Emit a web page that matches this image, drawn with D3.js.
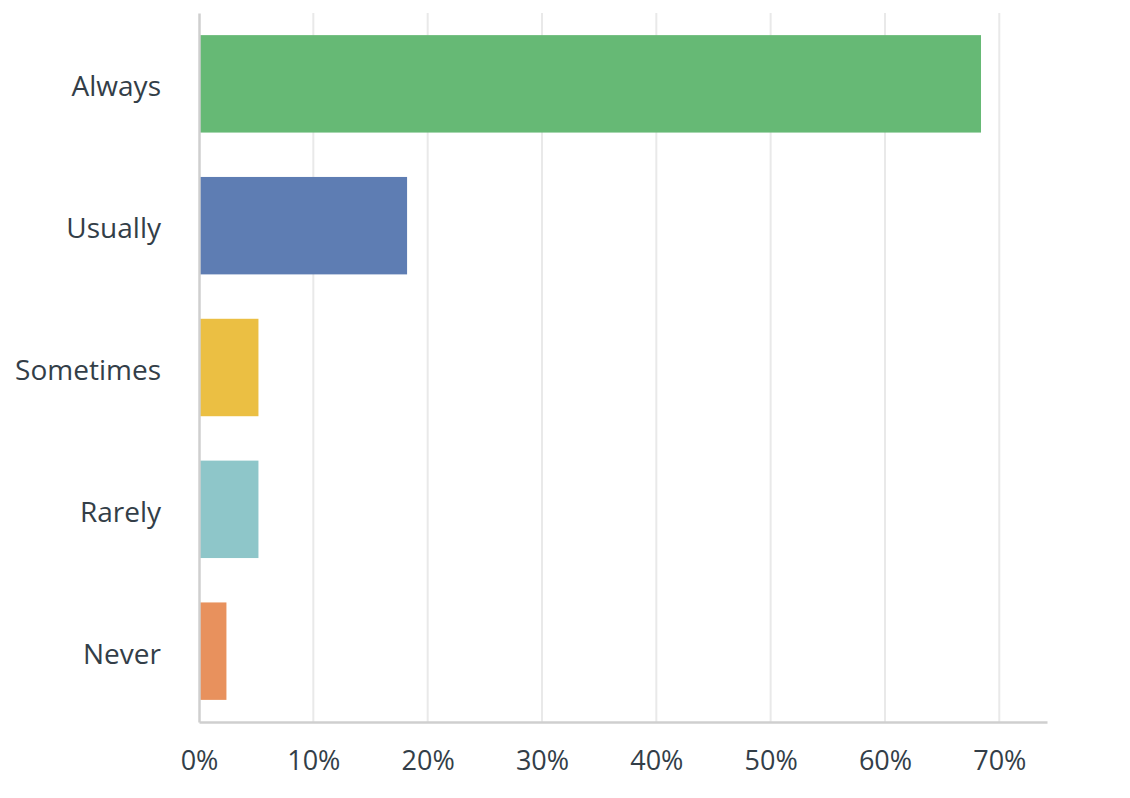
<!DOCTYPE html>
<html>
<head>
<meta charset="utf-8">
<script src="https://cdn.jsdelivr.net/npm/d3@7"></script>
<style>
    html, body { margin: 0; padding: 0; background: #fff; }
    svg { display: block; }
    .axis text { font-family: "Open Sans", "Noto Sans", sans-serif; fill: #333e48; }
</style>
</head>
<body>
<div id="chart"></div>
<script>
// Survey answer frequency — horizontal bars, percent of respondents.
const CATEGORIES = ["Always", "Usually", "Sometimes", "Rarely", "Never"];
const VALUES = [68.4, 18.2, 5.2, 5.2, 2.4];
const COLORS = ["#66b975", "#5e7db3", "#ebbf43", "#8ec6c9", "#e8915d"];
const X_TICKS = [0, 10, 20, 30, 40, 50, 60, 70];

const WIDTH = 1130;
const HEIGHT = 798;
const MARGIN = { top: 13, right: 83, bottom: 76, left: 199 };
const INNER_W = WIDTH - MARGIN.left - MARGIN.right;
const INNER_H = HEIGHT - MARGIN.top - MARGIN.bottom;

const svg = d3.select("#chart")
    .append("svg")
    .attr("width", WIDTH)
    .attr("height", HEIGHT);

const g = svg.append("g")
    .attr("transform", `translate(${MARGIN.left},${MARGIN.top})`);

// 70% lands at ~800px from the axis; the baseline runs a bit past it
const x = d3.scaleLinear()
    .domain([0, 70 * INNER_W / 800.3])
    .range([0, INNER_W]);

const y = d3.scaleBand()
    .domain(CATEGORIES)
    .range([0, INNER_H])
    .paddingInner(0.313)
    .paddingOuter(0.156);

// Vertical gridlines
g.selectAll("line.grid")
    .data(X_TICKS.slice(1))
    .join("line")
    .attr("class", "grid")
    .attr("x1", (d) => x(d)).attr("x2", (d) => x(d))
    .attr("y1", 0).attr("y2", INNER_H)
    .attr("stroke", "#e9e9e9")
    .attr("stroke-width", 2);

// Bars
g.selectAll("rect.bar")
    .data(VALUES)
    .join("rect")
    .attr("class", "bar")
    .attr("x", 1)
    .attr("y", (d, i) => y(CATEGORIES[i]))
    .attr("width", (d) => x(d) - 1)
    .attr("height", y.bandwidth())
    .attr("fill", (d, i) => COLORS[i]);

// Axes
const xAxis = g.append("g")
    .attr("class", "axis")
    .attr("transform", `translate(0,${INNER_H})`)
    .call(
        d3.axisBottom(x)
            .tickValues(X_TICKS)
            .tickFormat((v) => `${v}%`)
            .tickSize(0)
            .tickPadding(29),
    );
xAxis.select(".domain").attr("stroke", "#cfcfcf").attr("stroke-width", 2.5);
xAxis.selectAll("text").style("font-size", "27px");

const yAxis = g.append("g")
    .attr("class", "axis")
    .call(
        d3.axisLeft(y)
            .tickSize(0)
            .tickPadding(38),
    );
yAxis.select(".domain").attr("stroke", "#cfcfcf").attr("stroke-width", 2.5);
yAxis.selectAll("text")
    .style("font-size", "28px")
    .attr("dy", "0.45em");
</script>
</body>
</html>
